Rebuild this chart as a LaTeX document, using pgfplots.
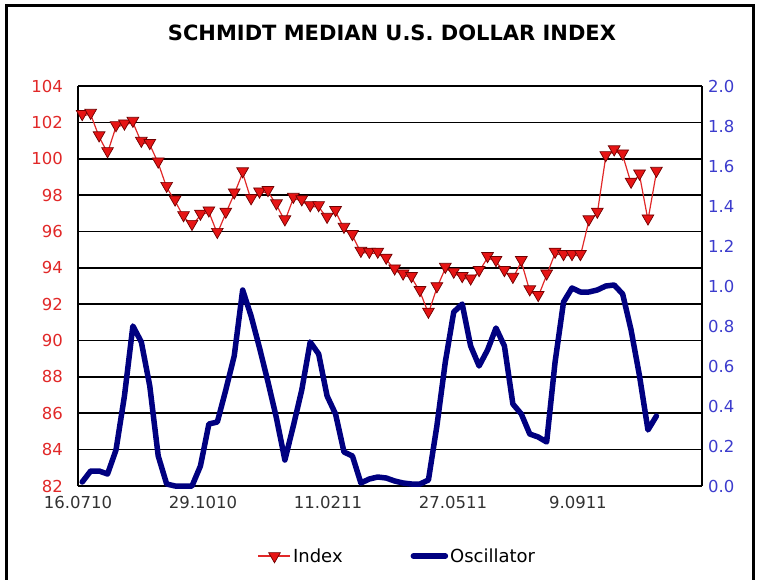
\documentclass[border=0pt]{standalone}
\usepackage{pgfplots}
\pgfplotsset{compat=1.18}
\usepackage{fontspec}
\setmainfont{DejaVu Sans}
\definecolor{idxline}{RGB}{225,40,40}
\definecolor{idxfill}{RGB}{230,20,20}
\definecolor{idxedge}{RGB}{110,0,0}
\definecolor{osc}{RGB}{0,0,128}
\definecolor{lefttick}{RGB}{225,40,40}
\definecolor{righttick}{RGB}{60,60,205}
\definecolor{xtick}{RGB}{50,50,50}
\pgfplotstableread{
i v
0 102.37
1 102.44
2 101.2
3 100.33
4 101.76
5 101.85
6 102.0
7 100.9
8 100.78
9 99.76
10 98.42
11 97.67
12 96.81
13 96.33
14 96.89
15 97.07
16 95.89
17 97.0
18 98.06
19 99.22
20 97.74
21 98.11
22 98.19
23 97.46
24 96.58
25 97.82
26 97.68
27 97.36
28 97.36
29 96.72
30 97.09
31 96.17
32 95.77
33 94.85
34 94.8
35 94.8
36 94.47
37 93.88
38 93.6
39 93.46
40 92.69
41 91.5
42 92.9
43 93.97
44 93.7
45 93.46
46 93.33
47 93.79
48 94.56
49 94.34
50 93.79
51 93.42
52 94.34
53 92.73
54 92.42
55 93.6
56 94.8
57 94.67
58 94.67
59 94.67
60 96.58
61 97.0
62 100.11
63 100.43
64 100.2
65 98.65
66 99.1
67 96.63
68 99.25
}\indextab
\pgfplotstableread{
i v
0 0.02
1 0.075
2 0.075
3 0.06
4 0.18
5 0.45
6 0.80
7 0.72
8 0.50
9 0.15
10 0.01
11 0.0
12 0.0
13 0.0
14 0.10
15 0.31
16 0.32
17 0.48
18 0.65
19 0.98
20 0.85
21 0.69
22 0.52
23 0.34
24 0.13
25 0.30
26 0.48
27 0.72
28 0.66
29 0.45
30 0.36
31 0.17
32 0.15
33 0.015
34 0.035
35 0.045
36 0.04
37 0.025
38 0.015
39 0.01
40 0.01
41 0.03
42 0.30
43 0.62
44 0.87
45 0.91
46 0.70
47 0.60
48 0.68
49 0.79
50 0.70
51 0.41
52 0.36
53 0.26
54 0.245
55 0.22
56 0.62
57 0.92
58 0.99
59 0.97
60 0.97
61 0.98
62 1.0
63 1.005
64 0.96
65 0.78
66 0.55
67 0.28
68 0.35
}\osctab
\begin{document}
\begin{tikzpicture}[x=1pt,y=1pt]
\useasboundingbox (0,0) rectangle (762,579);
\draw[line width=3pt] (6,-5) -- (6,573) -- (753,573) -- (753,-5);
\node[font=\fontsize{21}{24}\selectfont\bfseries, inner sep=0pt] at (392,546) {SCHMIDT MEDIAN U.S. DOLLAR INDEX};
\begin{axis}[
  at={(78pt,93pt)}, anchor=south west,
  scale only axis, width=624pt, height=400pt,
  xmin=-0.5, xmax=73.4, ymin=82, ymax=104,
  axis line style={black, line width=1.6pt},
  major tick length=0pt,
  ytick={82,84,...,104},
  yticklabels={82,84,86,88,90,92,94,96,98,100,102,104},
  ymajorgrids, grid style={black, line width=1.6pt},
  xtick={-0.5,14.3,29.1,43.9,58.7},
  xticklabels={16.0710,29.1010,11.0211,27.0511,9.0911},
  yticklabel style={font=\fontsize{16.5}{19}\selectfont, text=lefttick, inner sep=0pt, xshift=-15pt},
  xticklabel style={font=\fontsize{16.5}{19}\selectfont, text=xtick, inner sep=0pt, yshift=-10pt},
  axis y line*=left, axis x line*=bottom,
  clip=false,
]
\addplot[color=idxline, line width=1.2pt, mark=triangle*, mark size=6.8pt,
  mark options={yshift=1.7pt, rotate=180, fill=idxfill, draw=idxedge, line width=0.7pt, solid}]
  table[x=i, y=v] {\indextab};
\draw[black, line width=1.6pt] (rel axis cs:0,1) -- (rel axis cs:1,1);
\end{axis}
\begin{axis}[
  at={(78pt,93pt)}, anchor=south west,
  scale only axis, width=624pt, height=400pt,
  xmin=-0.5, xmax=73.4, ymin=0, ymax=2,
  axis x line=none, axis y line*=right,
  axis line style={black, line width=1.6pt},
  major tick length=0pt,
  ytick={0,0.2,...,2.01},
  yticklabels={0.0,0.2,0.4,0.6,0.8,1.0,1.2,1.4,1.6,1.8,2.0},
  yticklabel style={font=\fontsize{16.5}{19}\selectfont, text=righttick, inner sep=0pt, xshift=6pt},
  clip=false,
  legend columns=2,
  legend style={draw=none, fill=none, at={(0.512,-0.175)}, anchor=center,
    font=\fontsize{18}{21}\selectfont,
    /tikz/every even column/.append style={column sep=66pt}},
  legend image code/.code={\draw[mark repeat=2,mark phase=2,#1] plot coordinates {(0pt,0pt) (16pt,0pt) (32pt,0pt)};},
]
\addlegendimage{color=idxline, line width=1.2pt, mark=triangle*, mark size=6.8pt,
  mark options={rotate=180, fill=idxfill, draw=idxedge, line width=0.7pt, solid}}
\addlegendentry{Index}
\addplot[color=osc, line width=5.5pt, line join=round, line cap=round] table[x=i, y=v] {\osctab};
\addlegendentry{Oscillator}
\end{axis}
\end{tikzpicture}
\end{document}
